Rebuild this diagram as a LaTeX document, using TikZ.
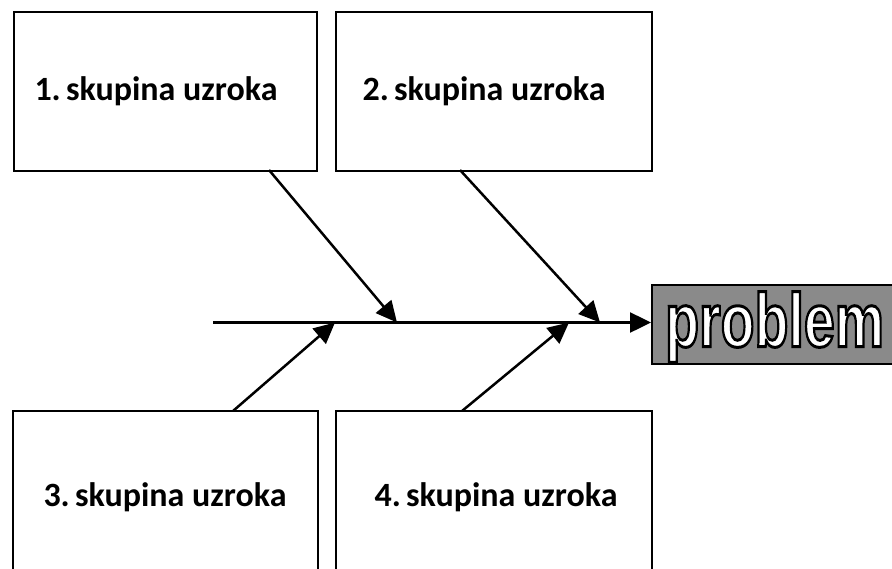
\documentclass[tikz,border=0pt]{standalone}
\usepackage{fontspec}
\setmainfont{Carlito}
\newfontfamily\probfont{Liberation Sans}
\usetikzlibrary{arrows.meta}
\definecolor{probgray}{HTML}{8A8A8A}
\newcommand{\shiftedtext}[2]{\hspace*{#1}#2}
\tikzset{
  causebox/.style={draw=black, line width=2pt, fill=white, inner sep=0pt,
    font=\fontsize{34}{38}\selectfont\bfseries},
  arr/.style={line width=2.5pt, -{Triangle[length=21pt,width=20pt]}},
}
\begin{document}
\begin{tikzpicture}[x=1pt,y=-1pt]
\useasboundingbox (0,0) rectangle (892,568);
\clip (0,0) rectangle (892,568);
\node[causebox, minimum width=303pt, minimum height=159pt] (b1) at (165.5,91.5) {\shiftedtext{-19pt}{1.\hspace{-5pt} skupina uzroka}};
\node[causebox, minimum width=316pt, minimum height=159pt] (b2) at (494,91.5) {\shiftedtext{-20pt}{2.\hspace{-5pt} skupina uzroka}};
\node[causebox, minimum width=305pt, minimum height=172pt] (b3) at (165,497) {3.\hspace{-5pt} skupina uzroka};
\node[causebox, minimum width=316pt, minimum height=172pt] (b4) at (494,497) {\shiftedtext{4pt}{4.\hspace{-5pt} skupina uzroka}};
\node[draw=black, line width=1.8pt, fill=probgray, anchor=west, minimum width=260pt, minimum height=79pt, inner sep=0pt] (p) at (651,324.5) {};
\node[anchor=west, inner sep=0pt] (pt) at (665,327) {\scalebox{0.73}[1]{\probfont\fontsize{76}{80}\selectfont\bfseries\color{white}\special{pdf:literal 0 G 2 Tr 3 w}problem\special{pdf:literal 0 Tr 1 w}}};
\coordinate (s0) at (213,322.5);
\coordinate (s1) at (397,322.5);
\coordinate (s2) at (600,322.5);
\coordinate (s3) at (335,322.5);
\coordinate (s4) at (569,322.5);
\draw[arr] (s0) -- (s0 -| p.west);
\draw[arr] (269,170) -- (s1);
\draw[arr] (460,170) -- (s2);
\draw[arr] (233,411) -- (s3);
\draw[arr] (462,411) -- (s4);
\end{tikzpicture}
\end{document}
